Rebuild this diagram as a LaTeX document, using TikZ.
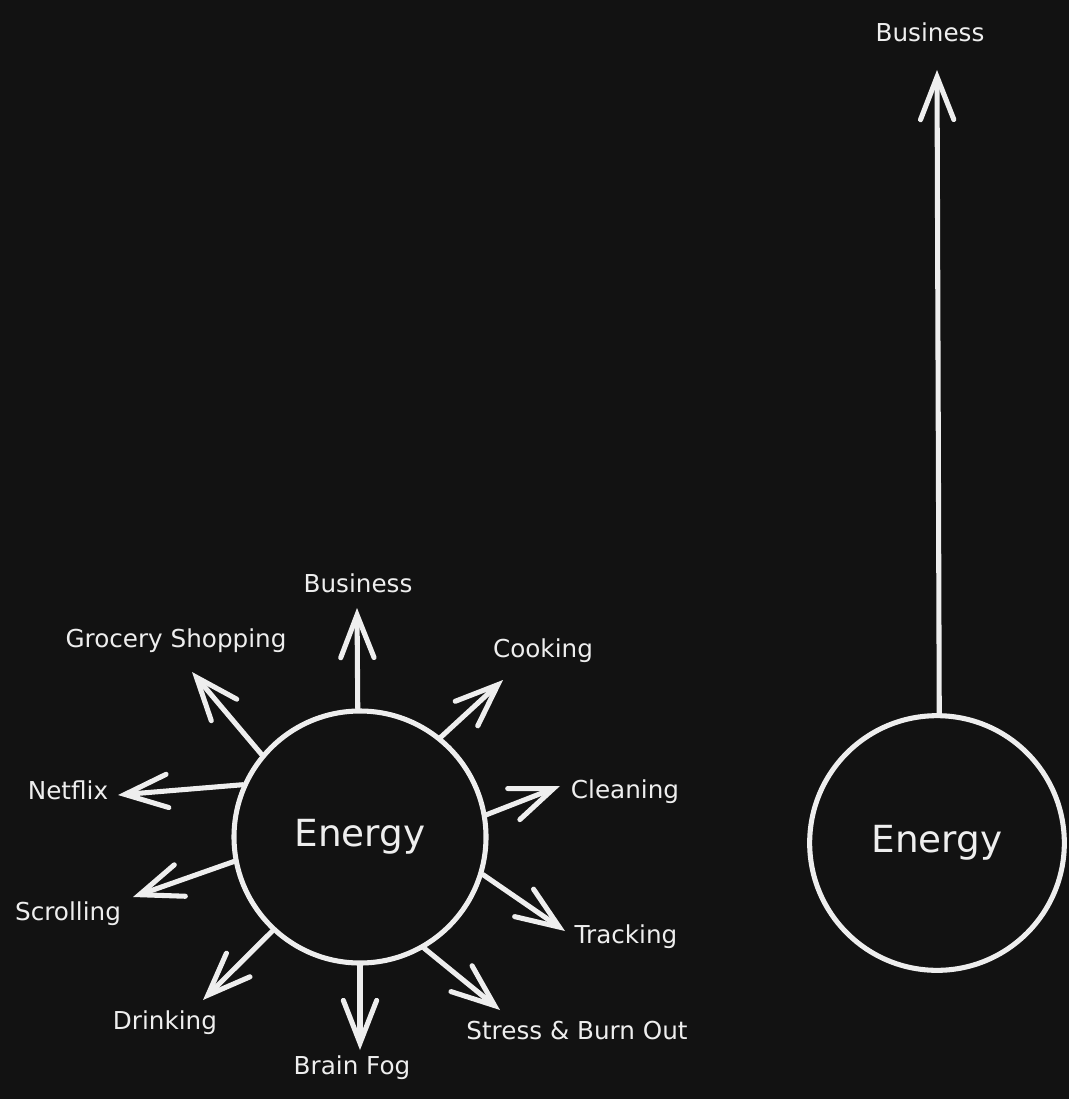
\documentclass[tikz,border=0pt]{standalone}
\usepackage{fontspec}
\setmainfont{DejaVu Sans}
\usetikzlibrary{arrows.meta}
\definecolor{bg}{HTML}{121212}
\definecolor{ink}{HTML}{EEEEEE}
\begin{document}
\begin{tikzpicture}[x=0.75pt,y=-0.75pt,
  ink/.style={draw=ink,line width=3.8pt},
  blob/.style={ink,circle,minimum size=189pt,inner sep=0pt,text=ink,font=\fontsize{28}{32}\selectfont},
  lbl/.style={text=ink,inner sep=1pt,font=\fontsize{18.5}{22}\selectfont},
  arr/.style={ink,line cap=round,-{Straight Barb[length=32pt,width=25pt,line cap=round]}}]
\fill[bg] (0,0) rectangle (1069,1099);
\useasboundingbox (0,0) rectangle (1069,1099);
% left circle
\node[blob] (E1) at (360,837) {Energy};
\node[lbl] (bus1) at (358,583) {Business};
\node[lbl] (cook) at (543,651) {Cooking};
\node[lbl] (clean) at (625,792) {Cleaning};
\node[lbl] (track) at (626,937) {Tracking};
\node[lbl] (stress) at (577,1031) {Stress \& Burn Out};
\node[lbl] (fog) at (352,1068) {Brain Fog};
\node[lbl] (drink) at (165,1023) {Drinking};
\node[lbl] (scroll) at (68,914) {Scrolling};
\node[lbl] (net) at (68,790) {Netflix};
\node[lbl] (groc) at (176,641) {Grocery Shopping};
\coordinate (tBus) at (357,608);
\coordinate (tCook) at (503,680);
\coordinate (tClean) at (560,786);
\coordinate (tTrack) at (565,931);
\coordinate (tStress) at (500,1010);
\coordinate (tFog) at (360,1050);
\coordinate (tDrink) at (203,1000);
\coordinate (tScroll) at (133,897);
\coordinate (tNet) at (118,795);
\coordinate (tGroc) at (192,672);
\draw[arr] (E1.91) -- (tBus);
\draw[arr] (E1.51) -- (tCook);
\draw[arr] (E1.10) -- (tClean);
\draw[arr] (E1.-17) -- (tTrack);
\draw[arr] (E1.-60) -- (tStress);
\draw[arr] (E1.-90) -- (tFog);
\draw[arr] (E1.227) -- (tDrink);
\draw[arr] (E1.191) -- (tScroll);
\draw[arr] (E1.156) -- (tNet);
\draw[arr] (E1.140) -- (tGroc);
% right circle
\node[blob,minimum size=191pt] (E2) at (937,843) {Energy};
\node[lbl] (bus2) at (930,32) {Business};
\coordinate (tBus2) at (937,70);
\draw[arr] (E2.89) -- (tBus2);
\end{tikzpicture}
\end{document}
